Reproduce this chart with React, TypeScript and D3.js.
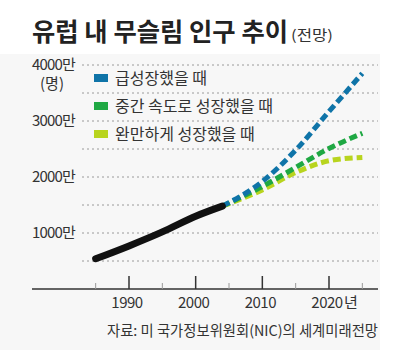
import * as d3 from 'd3';

// 역사 데이터 (만 명)
const histYears = [1985, 1990, 1995, 2000, 2004];
const histValues = [540, 770, 1020, 1300, 1480];

// 전망 시나리오
const projYears = [2004, 2010, 2015, 2020, 2025];
const fastValues = [1480, 1920, 2480, 3170, 3850];
const midValues = [1480, 1830, 2170, 2510, 2780];
const slowValues = [1480, 1770, 2080, 2290, 2350];

const seriesNames = ['급성장했을 때', '중간 속도로 성장했을 때', '완만하게 성장했을 때'];
const seriesColors = ['#0f74a8', '#1fa843', '#b8d41e'];

const yTickValues = [1000, 2000, 3000, 4000];
const yTickLabels = ['1000만', '2000만', '3000만', '4000만'];
const xMajorTicks = [1990, 2000, 2010, 2020];
const xMinorTicks = [1985, 1995, 2005, 2015, 2025];

const W = 408;
const H = 354;
const KR = '"Noto Sans CJK KR", "Noto Sans", sans-serif';

export default function App() {
  const x = d3.scaleLinear().domain([1990, 2020]).range([129, 329]);
  const y = d3.scaleLinear().domain([0, 4000]).range([289, 65]);

  const line = d3.line<[number, number]>()
    .x((d) => x(d[0]))
    .y((d) => y(d[1]))
    .curve(d3.curveMonotoneX);

  const hist = line(histYears.map((yr, i) => [yr, histValues[i]]) as [number, number][]) || '';
  const proj = [fastValues, midValues, slowValues].map(
    (vals) => line(projYears.map((yr, i) => [yr, vals[i]]) as [number, number][]) || ''
  );

  const grid = d3.range(500, 4001, 500);

  return (
    <svg width={W} height={H} style={{ position: 'absolute', left: 0, top: 0, background: '#fff' }}>
      <rect x={0} y={54} width={380} height={296} fill="#f7f7f7" />
      <text x={32} y={41} fontFamily={KR} fontWeight="bold" fontSize={25} fill="#222"
        textLength={256} lengthAdjust="spacingAndGlyphs">
        유럽 내 무슬림 인구 추이
      </text>
      <text x={291} y={40} fontFamily={KR} fontSize={14} fill="#333" textLength={42}
        lengthAdjust="spacingAndGlyphs">(전망)</text>

      {grid.map((g) => (
        <line key={g} x1={82} x2={378} y1={y(g)} y2={y(g)} stroke="#9a9a9a" strokeWidth={1} strokeDasharray="2,3" />
      ))}

      {yTickValues.map((v, i) => (
        <text key={v} x={75} y={y(v)} dy="0.35em" textAnchor="end" fontFamily={KR} fontSize={15}
          letterSpacing={-0.8} fill="#333">
          {yTickLabels[i]}
        </text>
      ))}
      <text x={52} y={84} dy="0.35em" textAnchor="middle" fontFamily={KR} fontSize={15} fill="#333">(명)</text>

      {/* x axis */}
      <line x1={32} x2={378} y1={289} y2={289} stroke="#333" strokeWidth={1.5} />
      {xMajorTicks.map((t) => (
        <line key={t} x1={x(t)} x2={x(t)} y1={276} y2={289} stroke="#333" strokeWidth={1.5} />
      ))}
      {xMinorTicks.map((t) => (
        <line key={t} x1={x(t)} x2={x(t)} y1={283} y2={289} stroke="#999" strokeWidth={1} />
      ))}
      {xMajorTicks.map((t) => (
        <text key={t} x={x(t) - 2} y={303} dy="0.35em" textAnchor="middle" fontFamily={KR} fontSize={15}
          letterSpacing={-0.5} fill="#333">
          {t}
        </text>
      ))}
      <text x={x(2020) + 15} y={303} dy="0.35em" fontFamily={KR} fontSize={15} fill="#333">년</text>

      {/* projections */}
      {proj.map((p, i) => (
        <path key={i} d={p} fill="none" stroke={seriesColors[i]} strokeWidth={5} strokeDasharray="8,4" />
      )).reverse()}
      <path d={hist} fill="none" stroke="#111" strokeWidth={7} strokeLinecap="round" />

      {/* legend */}
      {seriesNames.map((n, i) => (
        <g key={n} transform={`translate(94, ${78 + i * 28})`}>
          <rect x={0} y={-4} width={14} height={8} fill={seriesColors[i]} />
          <text x={21} y={0} dy="0.35em" fontFamily={KR} fontSize={16} fill="#333">{n}</text>
        </g>
      ))}

      <text x={378} y={331} dy="0.35em" textAnchor="end" fontFamily={KR} fontSize={14.5} fill="#333"
        textLength={271} lengthAdjust="spacingAndGlyphs">
        자료: 미 국가정보위원회(NIC)의 세계미래전망
      </text>
    </svg>
  );
}
